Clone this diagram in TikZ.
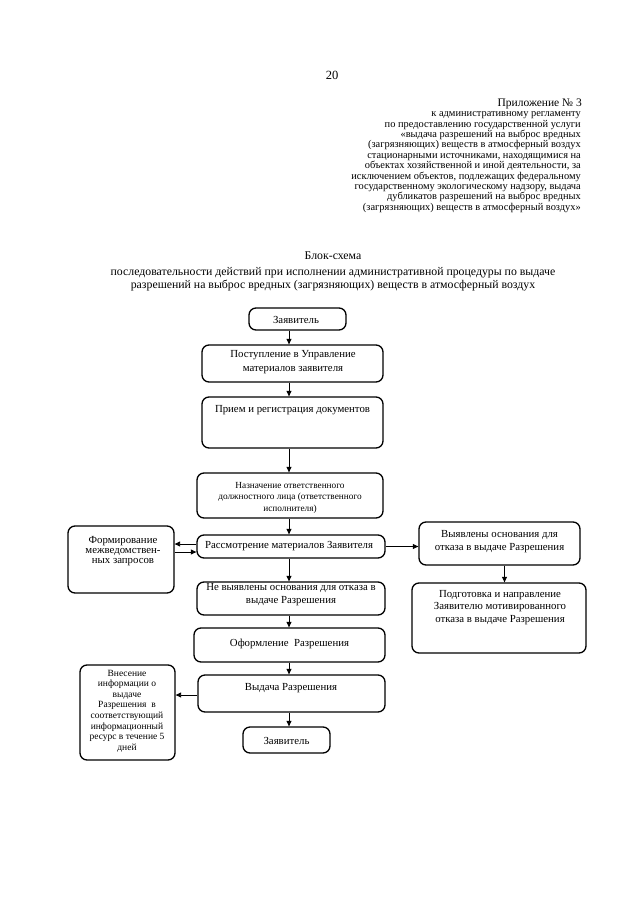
\documentclass[tikz,border=0pt]{standalone}
\usepackage{fontspec}
\setmainfont{Liberation Serif}
\usetikzlibrary{arrows.meta}
\begin{document}
\begin{tikzpicture}[x=1pt,y=-1pt,
  box/.style={draw, rounded corners=7pt, line width=1.3pt, inner sep=0pt},
  txt/.style={align=center, inner sep=0pt, font=\fontsize{10.8}{12.5}\selectfont},
  stxt/.style={align=center, inner sep=0pt, font=\fontsize{9.3}{10.6}\selectfont},
  arr/.style={-{Triangle[length=5.5pt,width=5pt]}, line width=0.9pt}]
\fill[white] (0,0) rectangle (640,905);
\useasboundingbox (0,0) rectangle (640,905);

% page number and header
\node[inner sep=0pt, font=\fontsize{12.5}{13}\selectfont] (pagenum) at (332,75) {20};
\node[anchor=north east, align=right, inner sep=0pt, text depth=0pt, font=\fontsize{11.5}{12}\selectfont] (app) at (582,98.5) {Приложение № 3};
\node[anchor=north east, align=right, inner sep=0pt, font=\fontsize{10.4}{10.4}\selectfont] (hdr) at (581,111.5) {к административному регламенту\\
по предоставлению государственной услуги\\
«выдача разрешений на выброс вредных\\
(загрязняющих) веществ в атмосферный воздух\\
стационарными источниками, находящимися на\\
объектах хозяйственной и иной деятельности, за\\
исключением объектов, подлежащих федеральному\\
государственному экологическому надзору, выдача\\
дубликатов разрешений на выброс вредных\\
(загрязняющих) веществ в атмосферный воздух»};

% title
\node[inner sep=0pt, font=\fontsize{11.8}{12}\selectfont] (title1) at (333,256) {Блок-схема};
\node[inner sep=0pt, font=\fontsize{11.8}{12}\selectfont] (title2) at (333,273) {последовательности действий при исполнении административной процедуры по выдаче};
\node[inner sep=0pt, font=\fontsize{11.8}{12}\selectfont] (title3) at (333,285.5) {разрешений на выброс вредных (загрязняющих) веществ в атмосферный воздух};

\coordinate (spine) at (289,0);

% boxes
\node[box, minimum width=97pt, minimum height=22pt] (z1) at (297.5,319) {};
\node[box, minimum width=181pt, minimum height=37pt] (p) at (292.5,363.5) {};
\node[box, minimum width=181pt, minimum height=51pt] (r) at (292.5,422.5) {};
\node[box, minimum width=186pt, minimum height=45pt] (n) at (290,495.5) {};
\node[box, minimum width=188pt, minimum height=23pt] (ras) at (291,546.5) {};
\node[box, minimum width=106pt, minimum height=67pt] (f) at (121,559.5) {};
\node[box, minimum width=161pt, minimum height=43pt] (vy) at (499.5,543.5) {};
\node[box, minimum width=174pt, minimum height=70pt] (pod) at (499,618) {};
\node[box, minimum width=188pt, minimum height=33pt] (ne) at (291,598.5) {};
\node[box, minimum width=191pt, minimum height=34pt] (of) at (289.5,645) {};
\node[box, minimum width=187pt, minimum height=37pt] (vd) at (291.5,693.5) {};
\node[box, minimum width=95pt, minimum height=95pt] (vn) at (127.5,712.5) {};
\node[box, minimum width=87pt, minimum height=26pt] (z2) at (286.5,740) {};

% texts
\node[txt] (z1t) at (296,319.5) {Заявитель};
\node[txt, font=\fontsize{10.8}{13.5}\selectfont] (pt) at (293,362) {Поступление в Управление\\материалов заявителя};
\node[txt] (rt) at (292.5,410) {Прием и регистрация документов};
\node[stxt, font=\fontsize{9.3}{11.5}\selectfont] (nt) at (290,497.5) {Назначение ответственного\\должностного лица (ответственного\\исполнителя)};
\node[txt] (rast) at (289,546.5) {Рассмотрение материалов Заявителя};
\node[txt, font=\fontsize{10.8}{10.2}\selectfont] (ft) at (123,551) {Формирование\\межведомствен-\\ных запросов};
\node[txt, font=\fontsize{10.8}{12.8}\selectfont] (vyt) at (499.5,541.5) {Выявлены основания для\\отказа в выдаче Разрешения};
\node[txt, font=\fontsize{10.8}{12.5}\selectfont] (podt) at (500,607.5) {Подготовка и направление\\Заявителю мотивированного\\отказа в выдаче Разрешения};
\node[txt, font=\fontsize{10.8}{13}\selectfont] (net) at (291,594.5) {Не выявлены основания для отказа в\\выдаче Разрешения};
\node[txt] (oft) at (289.5,644) {Оформление\ \ Разрешения};
\node[txt] (vdt) at (291,688) {Выдача Разрешения};
\node[stxt, font=\fontsize{9.5}{10.6}\selectfont] (vnt) at (127,711) {Внесение\\информации о\\выдаче\\Разрешения\ \ в\\соответствующий\\информационный\\ресурс в течение 5\\дней};
\node[txt] (z2t) at (286.5,740.5) {Заявитель};

% arrows
\draw[arr] (z1.south -| spine) -- (p.north -| spine);
\draw[arr] (p.south -| spine) -- (r.north -| spine);
\draw[arr] (r.south -| spine) -- (n.north -| spine);
\draw[arr] (n.south -| spine) -- (ras.north -| spine);
\draw[arr] (ras.south -| spine) -- (ne.north -| spine);
\draw[arr] (ne.south -| spine) -- (of.north -| spine);
\draw[arr] (of.south -| spine) -- (vd.north -| spine);
\draw[arr] (vd.south -| spine) -- (z2.north -| spine);
\draw[arr] ([yshift=2.5pt]ras.west) -- ([yshift=2.5pt]ras.west -| f.east);
\draw[arr] ([yshift=-5.5pt]ras.west -| f.east) -- ([yshift=-5.5pt]ras.west);
\draw[arr] (ras.east) -- (ras.east -| vy.west);
\draw[arr] ([xshift=5pt]vy.south) -- ([xshift=5pt]vy.south |- pod.north);
\draw[arr] ([yshift=-1.5pt]vd.west) -- ([yshift=-1.5pt]vd.west -| vn.east);
\end{tikzpicture}
\end{document}
